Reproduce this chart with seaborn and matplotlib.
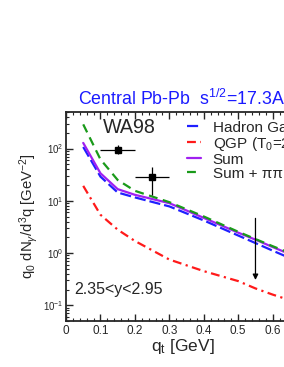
import numpy as np
import pandas as pd
import seaborn as sns
import matplotlib.pyplot as plt
from matplotlib.ticker import LogLocator, LogFormatterMathtext, MultipleLocator, NullFormatter

# Settings
sns.set_theme(style="ticks")
plt.rcParams['font.family'] = ['Liberation Sans', 'DejaVu Sans']
plt.rcParams['mathtext.fontset'] = 'custom'
plt.rcParams['mathtext.rm'] = 'Liberation Sans'
plt.rcParams['mathtext.it'] = 'Liberation Sans:italic'

# Data
qt = [0.05, 0.10, 0.15, 0.20, 0.30, 0.40, 0.50, 0.55, 0.60, 0.65]
hadron_gas = [107, 29, 14.4, 11.6, 7.8, 4.2, 2.16, 1.55, 1.11, 0.80]
qgp = [19.3, 5.4, 2.8, 1.7, 0.75, 0.45, 0.29, 0.21, 0.16, 0.125]
total = [128, 33.6, 16.7, 13.0, 9.0, 4.7, 2.45, 1.8, 1.3, 0.95]
total_pipi = [290, 62, 25, 15.5, 9.4, 5.0, 2.55, 1.85, 1.35, 1.0]

wa98_x = [0.15, 0.25]
wa98_y = [95, 29]
wa98_xerr = [0.05, 0.05]
wa98_yerr_lo = [18, 16]
wa98_yerr_hi = [20, 15]

ul_x = 0.55
ul_top = 5.2
ul_bottom = 0.27

names = ["Hadron Gas", "QGP (T$_0$=205 MeV)", "Sum", "Sum + ππ Scattering"]
curves = pd.DataFrame({
    "qt": qt * 4,
    "rate": hadron_gas + qgp + total + total_pipi,
    "model": [n for n in names for _ in qt],
})

palette = dict(zip(names, ["#1f1fff", "#ff1a1a", "#a020f0", "#1a9a1a"]))
dashes = dict(zip(names, [(5, 1.8), (4, 2, 1, 2), "", (4, 2.5)]))

xmax = 0.68
fig = plt.figure(figsize=(2.84, 3.67), dpi=100)
ax = fig.add_axes([66 / 284, 1 - 321 / 367, xmax * 344.5 / 284, 209 / 367])

sns.lineplot(data=curves, x="qt", y="rate", hue="model", style="model",
             palette=palette, dashes=dashes, linewidth=1.6, ax=ax)

ax.errorbar(wa98_x, wa98_y, xerr=wa98_xerr, yerr=[wa98_yerr_lo, wa98_yerr_hi],
            fmt="s", color="black", markersize=5, elinewidth=0.9, capsize=0)
ax.annotate("", xy=(ul_x, ul_bottom), xytext=(ul_x, ul_top),
            arrowprops=dict(arrowstyle="-|>", color="black", lw=0.9,
                            mutation_scale=8))

ax.set_yscale("log")
ax.set_xlim(0, xmax)
ax.set_ylim(0.05, 500)

ax.xaxis.set_major_locator(MultipleLocator(0.1))
ax.xaxis.set_minor_locator(MultipleLocator(0.02))
ax.xaxis.set_major_formatter(plt.FuncFormatter(lambda v, p: f"{v:g}"))
ax.yaxis.set_major_locator(LogLocator(base=10, numticks=10))
ax.yaxis.set_major_formatter(LogFormatterMathtext())
ax.yaxis.set_minor_locator(LogLocator(base=10, subs=np.arange(2, 10), numticks=20))
ax.yaxis.set_minor_formatter(NullFormatter())
ax.tick_params(which="both", direction="in", top=True, right=True)
ax.tick_params(which="major", length=5, width=1)
ax.tick_params(which="minor", length=2.5, width=0.8)
ax.tick_params(axis="x", labelsize=8.5, pad=3)
ax.tick_params(axis="y", labelsize=7, pad=2)
for s in ax.spines.values():
    s.set_linewidth(1.3)

ax.set_xlabel("q$_\\mathrm{t}$ [GeV]", fontsize=12.5, labelpad=0)
ax.set_ylabel("q$_0$ dN$_\\gamma$/d$^3$q [GeV$^{-2}$]", fontsize=10.7, labelpad=2)

ax.text(0.107, 196, "WA98", fontsize=14.2, va="baseline")
ax.text(0.023, 0.162, "2.35<y<2.95", fontsize=11.5, va="baseline")
fig.text(78 / 284, 1 - 99 / 367, "Central Pb-Pb  s$^{1/2}$=17.3A GeV",
         color="#1a1aff", fontsize=12.8, va="center", ha="left")

leg = ax.legend(loc="upper left", bbox_to_anchor=(0.516, 0.958), frameon=False,
                fontsize=11, handlelength=0.95, handletextpad=0.75,
                labelspacing=0.0, borderaxespad=0, borderpad=0)

fig.savefig("out.png", dpi=100)
